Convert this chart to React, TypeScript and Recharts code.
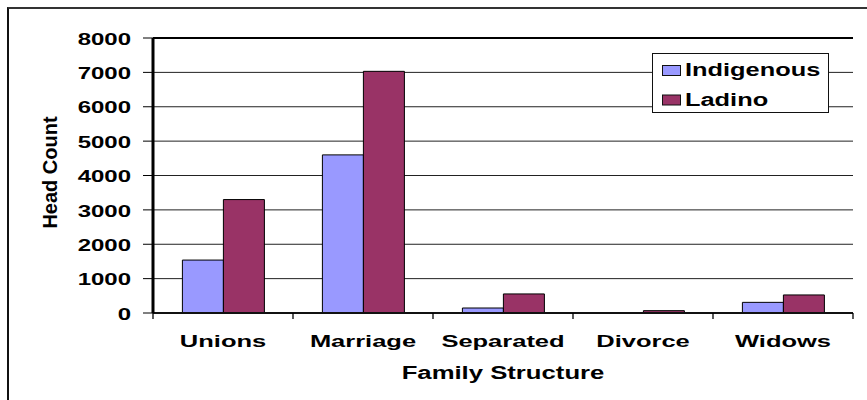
import React from 'react';
import { BarChart, Bar, XAxis, YAxis, CartesianGrid, Legend, ReferenceLine } from 'recharts';

const categories = ['Unions', 'Marriage', 'Separated', 'Divorce', 'Widows'];
const indigenous = [1540, 4600, 145, 0, 310];
const ladino = [3300, 7030, 555, 68, 525];
const yTicks = [0, 1000, 2000, 3000, 4000, 5000, 6000, 7000, 8000];
const seriesNames = ['Indigenous', 'Ladino'];
const seriesColors = ['#9999FF', '#993366'];
const xTitle = 'Family Structure';
const yTitle = 'Head Count';

const data = categories.map((c, i) => ({
  cat: c,
  [seriesNames[0]]: indigenous[i],
  [seriesNames[1]]: ladino[i],
}));

const FONT = '"Liberation Sans", Arial, Helvetica, sans-serif';

const YTick = (props: any) => {
  const { x, y, payload } = props;
  return (
    <text
      transform={`translate(${x},${y}) scale(1.5,1)`}
      textAnchor="end"
      dy="0.42em"
      fontFamily={FONT}
      fontWeight="bold"
      fontSize={16}
      fill="#000"
    >
      {payload.value}
    </text>
  );
};

const XTick = (props: any) => {
  const { x, payload, index, visibleTicksCount } = props;
  const half = payload && payload.offset ? payload.offset : 70;
  const axisY = 313;
  const isLast = index === (visibleTicksCount ?? categories.length) - 1;
  return (
    <g>
      <line x1={x - half} x2={x - half} y1={axisY} y2={axisY + 6} stroke="#000" strokeWidth={1.3} />
      {isLast && <line x1={x + half} x2={x + half} y1={axisY} y2={axisY + 6} stroke="#000" strokeWidth={1.3} />}
      <text
        transform={`translate(${x},${axisY + 34}) scale(1.5,1)`}
        textAnchor="middle"
        fontFamily={FONT}
        fontWeight="bold"
        fontSize={17}
        fill="#000"
      >
        {payload.value}
      </text>
    </g>
  );
};

const XTitle = (props: any) => {
  const vb = props.viewBox || { x: 153, y: 313, width: 700, height: 40 };
  const cx = vb.x + vb.width / 2;
  return (
    <text
      transform={`translate(${cx},379) scale(1.39,1)`}
      textAnchor="middle"
      fontFamily={FONT}
      fontWeight="bold"
      fontSize={18.5}
      fill="#000"
    >
      {xTitle}
    </text>
  );
};

const YTitle = (props: any) => {
  const vb = props.viewBox || { x: 53, y: 38, width: 100, height: 275 };
  const cy = vb.y + vb.height / 2 - 3;
  return (
    <text
      transform={`translate(57,${cy}) rotate(-90)`}
      textAnchor="middle"
      fontFamily={FONT}
      fontWeight="bold"
      fontSize={20}
      fill="#000"
    >
      {yTitle}
    </text>
  );
};

const LegendBox = () => (
  <svg width={178} height={61} style={{ display: 'block' }}>
    <rect x={0.5} y={0.5} width={176} height={59} fill="#fff" stroke="#111" strokeWidth={1} />
    {seriesNames.map((n, i) => {
      const rowTop = 12 + i * 29.5;
      return (
        <g key={n}>
          <rect x={10.5} y={rowTop + 0.5} width={18} height={10} fill={seriesColors[i]} stroke="#111" strokeWidth={1} />
          <text
            transform={`translate(33,${rowTop + 11}) scale(1.41,1)`}
            fontFamily={FONT}
            fontWeight="bold"
            fontSize={18}
            fill="#000"
          >
            {n}
          </text>
        </g>
      );
    })}
  </svg>
);

export default function App() {
  return (
    <div style={{ position: 'absolute', left: 0, top: 0, width: 867, height: 400, overflow: 'hidden', background: '#fff' }}>
      <div
        style={{
          position: 'absolute',
          left: 7,
          top: 7,
          width: 900,
          height: 500,
          borderLeft: '2px solid #111',
          borderTop: '2px solid #333',
        }}
      />
      <div style={{ position: 'absolute', left: 0, top: 0 }}>
        <BarChart
          width={867}
          height={400}
          data={data}
          margin={{ top: 38, right: 14, bottom: 47, left: 53 }}
          barCategoryGap="21%"
          barGap={0}
        >
          <CartesianGrid vertical={false} stroke="#222" strokeWidth={1} />
          <XAxis
            dataKey="cat"
            height={40}
            tickLine={false}
            tickSize={6}
            axisLine={{ stroke: '#111', strokeWidth: 2 }}
            tick={<XTick />}
            interval={0}
            label={<XTitle />}
          />
          <YAxis
            width={100}
            domain={[0, 8000]}
            ticks={yTicks}
            interval={0}
            tickSize={10}
            tickMargin={12}
            tickLine={{ stroke: '#000', strokeWidth: 1 }}
            axisLine={{ stroke: '#000', strokeWidth: 3 }}
            tick={<YTick />}
            label={<YTitle />}
          />
          <YAxis
            yAxisId="right"
            orientation="right"
            width={0}
            domain={[0, 8000]}
            tick={false}
            tickLine={false}
            axisLine={{ stroke: '#000', strokeWidth: 3 }}
          />
          <ReferenceLine y={8000} stroke="#000" strokeWidth={2} />
          <Legend
            layout="horizontal"
            verticalAlign="middle"
            align="center"
            content={<LegendBox />}
            wrapperStyle={{ position: 'absolute', left: 651.5, top: 52.5, width: 178, height: 61 }}
          />
          <Bar dataKey={seriesNames[0]} fill={seriesColors[0]} stroke="#000" strokeWidth={1} isAnimationActive={false} />
          <Bar dataKey={seriesNames[1]} fill={seriesColors[1]} stroke="#000" strokeWidth={1} isAnimationActive={false} />
        </BarChart>
      </div>
    </div>
  );
}
